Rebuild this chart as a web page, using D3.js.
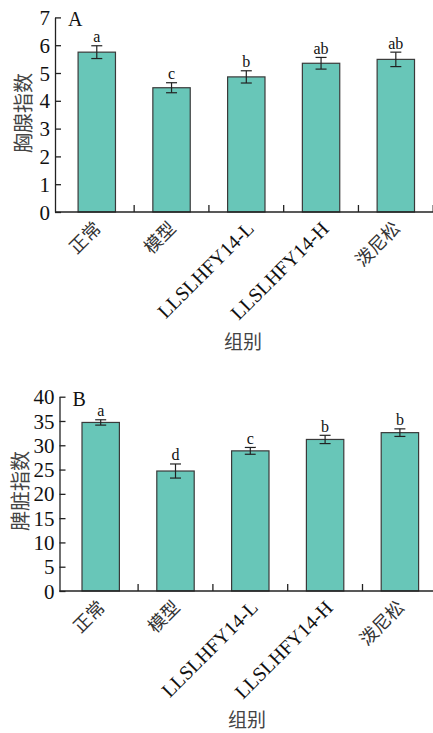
<!DOCTYPE html>
<html><head><meta charset="utf-8">
<script src="https://cdn.jsdelivr.net/npm/d3@7"></script>
<style>body{margin:0;background:#fff}svg{display:block}</style>
</head><body>
<svg id="c" width="433" height="733"></svg>
<script>
const categories = ["正常","模型","LLSLHFY14-L","LLSLHFY14-H","泼尼松"];
const thymusValues = [5.75, 4.47, 4.86, 5.35, 5.49];
const thymusErrors = [0.23, 0.18, 0.22, 0.21, 0.26];
const thymusLetters = ["a","c","b","ab","ab"];
const thymusTicks = [0,1,2,3,4,5,6,7];
const spleenValues = [34.7, 24.7, 28.85, 31.2, 32.6];
const spleenErrors = [0.55, 1.45, 0.7, 0.85, 0.78];
const spleenLetters = ["a","d","c","b","b"];
const spleenTicks = [0,5,10,15,20,25,30,35,40];

const svg = d3.select("#c");
const serif = "'Liberation Serif','Times New Roman',serif";
const cjk = "'Noto Sans CJK SC',sans-serif";

function panel(o){
  const g = svg.append("g");
  const y = d3.scaleLinear().domain([0, o.max]).range([o.y0, o.y1]);
  const x = d3.scaleBand().domain(categories).range([o.bx0, o.bx1]).paddingInner(0.5).paddingOuter(0.25);
  g.selectAll("rect.bar").data(o.values).join("rect")
    .attr("x",(d,i)=>x(categories[i])).attr("width",x.bandwidth())
    .attr("y",d=>y(d)).attr("height",d=>y(0)-y(d))
    .attr("fill","#68c6b8").attr("stroke","#3a3a3a").attr("stroke-width",1.2);
  const eb = g.selectAll("g.eb").data(o.values).join("g")
    .attr("transform",(d,i)=>`translate(${x(categories[i])+x.bandwidth()/2},0)`);
  eb.append("line").attr("y1",(d,i)=>y(d+o.errors[i])).attr("y2",(d,i)=>y(d-o.errors[i])).attr("stroke","#222").attr("stroke-width",1.2);
  eb.append("line").attr("x1",-5.5).attr("x2",5.5).attr("y1",(d,i)=>y(d+o.errors[i])).attr("y2",(d,i)=>y(d+o.errors[i])).attr("stroke","#222").attr("stroke-width",1.2);
  eb.append("line").attr("x1",-5.5).attr("x2",5.5).attr("y1",(d,i)=>y(d-o.errors[i])).attr("y2",(d,i)=>y(d-o.errors[i])).attr("stroke","#222").attr("stroke-width",1.2);
  eb.append("text").attr("y",(d,i)=>y(d+o.errors[i])-3.5).attr("text-anchor","middle")
    .attr("font-family",serif).attr("font-size",16).attr("fill","#111").text((d,i)=>o.letters[i]);
  const ya = g.append("g").attr("transform",`translate(${o.ax},0)`)
    .call(d3.axisLeft(y).tickValues(o.ticks).tickSizeInner(-6).tickSizeOuter(0).tickPadding(5).tickFormat(d3.format("d")));
  ya.selectAll("path,line").attr("stroke","#222").attr("stroke-width",1.3);
  ya.selectAll("text").attr("font-family",serif).attr("font-size",21).attr("fill","#111").attr("dy","0.34em");
  g.append("line").attr("x1",o.ax).attr("x2",433).attr("y1",o.y0).attr("y2",o.y0).attr("stroke","#222").attr("stroke-width",1.3);
  const step = x.step();
  const bounds = categories.slice(1).map(c=>x(c)-step*x.paddingInner()/2).concat([x(categories[4])+x.bandwidth()+step*x.paddingInner()/2]);
  g.selectAll("line.xt").data(bounds).join("line").attr("x1",d=>d).attr("x2",d=>d)
    .attr("y1",o.y0).attr("y2",o.y0-7).attr("stroke","#222").attr("stroke-width",1.3);
  g.selectAll("text.xl").data(categories).join("text")
    .attr("transform",d=>`translate(${x(d)+x.bandwidth()/2+(/[A-Z]/.test(d)?4:1)},${o.y0+13}) rotate(-45)`)
    .attr("text-anchor","end").attr("dy","0.35em")
    .attr("font-family",d=>/[A-Z]/.test(d)?serif:cjk).attr("font-size",d=>/[A-Z]/.test(d)?20:18)
    .attr("fill",d=>/[A-Z]/.test(d)?"#111":"#333").text(d=>d);
  g.append("text").attr("x",o.ax+13).attr("y",o.y1+9).attr("font-family",serif).attr("font-size",20).attr("fill","#111").text(o.tag);
  g.append("text").attr("transform",`translate(${o.ytx},${o.yty}) rotate(-90)`).attr("text-anchor","middle").attr("dy","0.35em")
    .attr("font-family",cjk).attr("font-size",20).attr("fill","#444").text(o.ytitle);
  g.append("text").attr("x",o.xtx).attr("y",o.xty).attr("text-anchor","middle").attr("dy","0.35em")
    .attr("font-family",cjk).attr("font-size",19).attr("fill","#444").text("组别");
}

panel({values:thymusValues, errors:thymusErrors, letters:thymusLetters, ticks:thymusTicks, max:7,
  y0:212, y1:17.4, ax:55, bx0:59.4, bx1:433.2, tag:"A", ytitle:"胸腺指数", ytx:24, yty:113, xtx:243, xty:342});
panel({values:spleenValues, errors:spleenErrors, letters:spleenLetters, ticks:spleenTicks, max:40,
  y0:591, y1:396.7, ax:59.5, bx0:63.3, bx1:437.3, tag:"B", ytitle:"脾脏指数", ytx:21, yty:491, xtx:247, xty:720});
</script>
</body></html>
